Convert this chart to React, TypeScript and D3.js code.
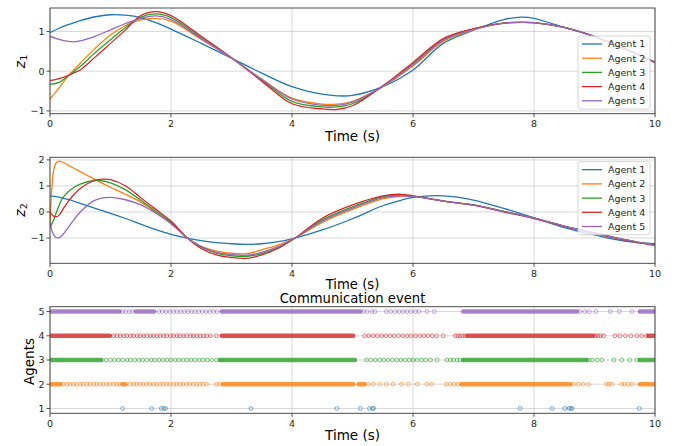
import React from "react";
import * as d3 from "d3";

const AGENTS = ["Agent 1", "Agent 2", "Agent 3", "Agent 4", "Agent 5"];
const COLORS = ["#1f77b4", "#ff7f0e", "#2ca02c", "#d62728", "#9467bd"];

const X_TICKS = [0, 2, 4, 6, 8, 10];
const Z1_TICKS = [-1, 0, 1];
const Z2_TICKS = [-1, 0, 1, 2];
const AGENT_TICKS = [1, 2, 3, 4, 5];

const TIME_Z1 = [0, 0.15, 0.3, 0.4, 0.5, 0.75, 1, 1.25, 1.5, 1.75, 2, 2.5, 3, 3.5, 4, 4.5, 4.75, 5, 5.5, 6, 6.5, 7, 7.5, 7.8, 8, 8.5, 9, 9.5, 10];
const Z1_A1 = [0.97, 1.08, 1.17, 1.22, 1.27, 1.37, 1.42, 1.41, 1.35, 1.22, 1.06, 0.7, 0.33, -0.05, -0.39, -0.58, -0.62, -0.61, -0.39, 0.03, 0.7, 1.03, 1.3, 1.36, 1.33, 1.1, 0.87, 0.57, 0.23];
const Z1_A2 = [-0.7, -0.42, -0.12, 0.04, 0.2, 0.58, 0.91, 1.15, 1.29, 1.33, 1.26, 0.8, 0.33, -0.2, -0.68, -0.83, -0.83, -0.76, -0.39, 0.13, 0.75, 1.04, 1.21, 1.23, 1.22, 1.1, 0.87, 0.56, 0.22];
const Z1_A3 = [-0.33, -0.28, -0.12, 0.0, 0.12, 0.47, 0.79, 1.1, 1.36, 1.44, 1.35, 0.84, 0.33, -0.22, -0.76, -0.9, -0.9, -0.82, -0.38, 0.18, 0.8, 1.06, 1.21, 1.23, 1.22, 1.1, 0.87, 0.56, 0.22];
const Z1_A4 = [-0.24, -0.19, -0.11, -0.04, 0.03, 0.36, 0.7, 1.04, 1.4, 1.5, 1.4, 0.88, 0.34, -0.25, -0.82, -0.95, -0.96, -0.87, -0.37, 0.22, 0.82, 1.07, 1.21, 1.23, 1.22, 1.1, 0.87, 0.56, 0.22];
const Z1_A5 = [0.88, 0.8, 0.75, 0.74, 0.76, 0.88, 1.04, 1.2, 1.33, 1.39, 1.3, 0.82, 0.33, -0.21, -0.7, -0.86, -0.86, -0.78, -0.38, 0.16, 0.78, 1.05, 1.21, 1.23, 1.22, 1.1, 0.87, 0.56, 0.22];

const TIME_Z2 = [0, 0.03, 0.06, 0.1, 0.15, 0.2, 0.3, 0.4, 0.5, 0.7, 0.85, 1, 1.25, 1.5, 1.75, 2, 2.27, 2.5, 2.75, 3, 3.25, 3.5, 3.75, 4.05, 4.5, 5, 5.5, 5.8, 6, 6.5, 7, 7.5, 8, 8.5, 9, 9.5, 10];
const Z2_A1 = [0.62, 0.61, 0.6, 0.59, 0.57, 0.54, 0.48, 0.41, 0.33, 0.18, 0.06, -0.05, -0.25, -0.47, -0.68, -0.86, -1.0, -1.1, -1.18, -1.22, -1.24, -1.22, -1.15, -1.0, -0.69, -0.26, 0.24, 0.45, 0.56, 0.62, 0.46, 0.14, -0.22, -0.6, -0.88, -1.12, -1.22];
const Z2_A2 = [-0.5, 0.9, 1.6, 1.88, 1.95, 1.92, 1.8, 1.67, 1.55, 1.3, 1.12, 0.95, 0.68, 0.38, 0.0, -0.43, -1.0, -1.32, -1.5, -1.58, -1.6, -1.45, -1.28, -1.0, -0.4, 0.1, 0.5, 0.6, 0.6, 0.42, 0.27, 0.02, -0.24, -0.54, -0.8, -1.06, -1.27];
const Z2_A3 = [-0.6, -0.45, -0.3, -0.05, 0.25, 0.5, 0.78, 0.95, 1.07, 1.2, 1.2, 1.12, 0.85, 0.45, 0.02, -0.4, -1.0, -1.35, -1.58, -1.68, -1.7, -1.6, -1.4, -1.0, -0.3, 0.2, 0.58, 0.65, 0.61, 0.42, 0.27, 0.02, -0.24, -0.54, -0.8, -1.06, -1.27];
const Z2_A4 = [0.0, -0.1, -0.16, -0.19, -0.12, 0.05, 0.4, 0.68, 0.9, 1.18, 1.26, 1.24, 1.0, 0.55, 0.1, -0.35, -1.0, -1.4, -1.65, -1.75, -1.78, -1.65, -1.42, -1.0, -0.24, 0.27, 0.62, 0.68, 0.62, 0.42, 0.26, 0.0, -0.25, -0.55, -0.82, -1.08, -1.29];
const Z2_A5 = [-0.4, -0.7, -0.88, -0.98, -0.98, -0.9, -0.6, -0.28, 0.0, 0.4, 0.53, 0.56, 0.47, 0.27, -0.05, -0.45, -1.0, -1.33, -1.55, -1.63, -1.66, -1.55, -1.35, -1.0, -0.35, 0.15, 0.55, 0.62, 0.6, 0.42, 0.27, 0.02, -0.24, -0.54, -0.8, -1.06, -1.27];

// Communication events: isolated event times, plus bursts where events are too dense to separate
const EVENTS_A1 = [1.2, 1.68, 1.84, 1.88, 1.91, 3.32, 4.74, 5.13, 5.28, 5.33, 5.35, 7.77, 8.3, 8.51, 8.58, 8.61, 8.63, 9.74];
const BURSTS_A1: number[][] = [];
const EVENTS_A2 = [0.22, 0.28, 0.33, 0.39, 0.44, 0.5, 0.55, 0.61, 0.66, 0.72, 0.77, 0.83, 0.88, 0.94, 0.99, 1.05, 1.1, 1.15, 1.32, 1.38, 1.43, 1.49, 1.54, 1.6, 1.65, 1.71, 1.76, 1.82, 1.87, 1.93, 1.98, 2.04, 2.09, 2.15, 2.2, 2.26, 2.31, 2.37, 2.42, 2.48, 2.53, 2.59, 2.75, 2.8, 5.26, 5.34, 5.45, 5.56, 5.67, 5.81, 5.92, 6.07, 6.23, 6.31, 6.55, 6.62, 6.68, 6.74, 8.65, 8.73, 8.81, 8.9, 9.2, 9.24, 9.29, 9.45, 9.5, 9.56, 9.62];
const BURSTS_A2 = [[0, 0.17], [1.2, 1.25], [2.86, 5.01], [5.1, 5.2], [6.8, 8.6], [9.75, 10]];
const EVENTS_A3 = [0.93, 1.0, 1.07, 1.13, 1.2, 1.27, 1.33, 1.4, 1.47, 1.53, 1.6, 1.67, 1.73, 1.8, 1.87, 1.93, 2.0, 2.07, 2.13, 2.2, 2.27, 2.33, 2.4, 2.47, 2.53, 2.6, 2.67, 2.75, 5.23, 5.3, 5.37, 5.45, 5.52, 5.59, 5.66, 5.73, 5.8, 5.87, 5.94, 6.0, 6.07, 6.14, 6.21, 6.29, 6.4, 6.56, 6.62, 6.67, 6.73, 6.78, 8.91, 8.96, 9.04, 9.12, 9.32, 9.45, 9.58, 9.7];
const BURSTS_A3 = [[0, 0.85], [2.81, 5.04], [6.83, 8.87], [9.75, 10]];
const EVENTS_A4 = [1.05, 1.11, 1.16, 1.22, 1.27, 1.33, 1.38, 1.44, 1.49, 1.55, 1.6, 1.66, 1.71, 1.77, 1.82, 1.88, 1.93, 1.99, 2.04, 2.1, 2.15, 2.21, 2.26, 2.32, 2.37, 2.43, 2.48, 2.54, 2.59, 2.65, 2.75, 5.2, 5.27, 5.34, 5.41, 5.48, 5.55, 5.62, 5.69, 5.76, 5.83, 5.9, 5.97, 6.04, 6.11, 6.18, 6.25, 6.32, 6.39, 6.5, 6.7, 6.74, 6.78, 6.82, 6.86, 9.02, 9.06, 9.1, 9.15, 9.34, 9.42, 9.51, 9.6, 9.7, 9.78, 9.86];
const BURSTS_A4 = [[0, 0.99], [2.84, 5.01], [6.9, 8.98], [9.89, 10]];
const EVENTS_A5 = [1.2, 1.25, 1.31, 1.36, 1.8, 1.86, 1.92, 1.98, 2.04, 2.1, 2.16, 2.22, 2.28, 2.34, 2.4, 2.46, 2.52, 2.58, 2.64, 2.7, 2.76, 5.18, 5.24, 5.32, 5.37, 5.56, 5.63, 5.7, 5.77, 5.84, 5.9, 5.97, 6.04, 6.1, 6.23, 6.35, 8.76, 8.84, 8.91, 9.02, 9.26, 9.41, 9.62];
const BURSTS_A5 = [[0, 1.15], [1.42, 1.72], [2.84, 5.13], [6.83, 8.71], [9.75, 10]];

const Z1_SERIES = [Z1_A1, Z1_A2, Z1_A3, Z1_A4, Z1_A5];
const Z2_SERIES = [Z2_A1, Z2_A2, Z2_A3, Z2_A4, Z2_A5];
const EVENTS = [EVENTS_A1, EVENTS_A2, EVENTS_A3, EVENTS_A4, EVENTS_A5];
const BURSTS = [BURSTS_A1, BURSTS_A2, BURSTS_A3, BURSTS_A4, BURSTS_A5];

const FONT = "DejaVu Sans, sans-serif";
const LEFT = 50;
const RIGHT = 655;

const x = d3.scaleLinear().domain([0, 10]).range([LEFT, RIGHT]);

type PanelProps = {
  top: number;
  bottom: number;
  y: d3.ScaleLinear<number, number>;
  yTicks: number[];
  children?: React.ReactNode;
};

const fmt = (v: number) => (v < 0 ? "\u2212" + Math.abs(v) : String(v));

function Panel({ top, bottom, y, yTicks, children }: PanelProps) {
  const clipId = "clip" + Math.round(top);
  return (
    <g>
      <defs>
        <clipPath id={clipId}>
          <rect x={LEFT} y={top} width={RIGHT - LEFT} height={bottom - top} />
        </clipPath>
      </defs>
      {X_TICKS.map((t) => (
        <line key={"gx" + t} x1={x(t)} x2={x(t)} y1={top} y2={bottom} stroke="#b0b0b0" strokeOpacity={0.55} strokeWidth={0.9} />
      ))}
      {yTicks.map((t) => (
        <line key={"gy" + t} x1={LEFT} x2={RIGHT} y1={y(t)} y2={y(t)} stroke="#b0b0b0" strokeOpacity={0.55} strokeWidth={0.9} />
      ))}
      <g clipPath={`url(#${clipId})`}>{children}</g>
      <rect x={LEFT} y={top} width={RIGHT - LEFT} height={bottom - top} fill="none" stroke="#3a3a3a" strokeWidth={0.9} />
      {X_TICKS.map((t) => (
        <g key={"tx" + t}>
          <line x1={x(t)} x2={x(t)} y1={bottom} y2={bottom + 3.5} stroke="#3a3a3a" strokeWidth={0.9} />
          <text x={x(t)} y={bottom + 13.5} textAnchor="middle" fontSize={9.5} fontFamily={FONT} fill="#262626">
            {t}
          </text>
        </g>
      ))}
      {yTicks.map((t) => (
        <g key={"ty" + t}>
          <line x1={LEFT - 3.5} x2={LEFT} y1={y(t)} y2={y(t)} stroke="#3a3a3a" strokeWidth={0.9} />
          <text x={LEFT - 5.5} y={y(t) + 3.4} textAnchor="end" fontSize={9.5} fontFamily={FONT} fill="#262626">
            {fmt(t)}
          </text>
        </g>
      ))}
    </g>
  );
}

function Legend({ left, top }: { left: number; top: number }) {
  const step = 14.2;
  return (
    <g>
      <rect x={left} y={top} width={72} height={73} rx={2.5} fill="white" fillOpacity={0.8} stroke="#cccccc" strokeWidth={0.8} />
      {AGENTS.map((a, i) => {
        const cy = top + 8 + i * step;
        return (
          <g key={a}>
            <line x1={left + 4} x2={left + 24} y1={cy} y2={cy} stroke={COLORS[i]} strokeWidth={1.3} />
            <text x={left + 30} y={cy + 3.4} fontSize={9.5} fontFamily={FONT} fill="#262626">
              {a}
            </text>
          </g>
        );
      })}
    </g>
  );
}

export default function App() {
  const y1 = d3.scaleLinear().domain([-1.07, 1.59]).range([113.7, 8]);
  const y2 = d3.scaleLinear().domain([-1.97, 2.1]).range([263.3, 157.3]);
  const y3 = d3.scaleLinear().domain([0.8, 5.2]).range([413.3, 306.7]);

  const line1 = (vals: number[]) =>
    d3
      .line<number>()
      .x((_, i) => x(TIME_Z1[i]))
      .y((v) => y1(v))
      .curve(d3.curveCatmullRom.alpha(0.5))(vals) || "";
  const line2 = (vals: number[]) =>
    d3
      .line<number>()
      .x((_, i) => x(TIME_Z2[i]))
      .y((v) => y2(v))
      .curve(d3.curveCatmullRom.alpha(0.5))(vals) || "";

  return (
    <svg width={683} height={446} style={{ position: "absolute", left: 0, top: 0, background: "white" }}>
      <rect x={0} y={0} width={683} height={446} fill="white" />

      {/* Panel 1: z1 */}
      <Panel top={8} bottom={113.7} y={y1} yTicks={Z1_TICKS}>
        {Z1_SERIES.map((s, i) => (
          <path key={i} d={line1(s)} fill="none" stroke={COLORS[i]} strokeWidth={1.3} />
        ))}
      </Panel>
      <Legend left={578} top={36} />
      <text x={352.5} y={141} textAnchor="middle" fontSize={13.5} fontFamily={FONT} fill="#000">
        Time (s)
      </text>
      <text transform="translate(25,61.5) rotate(-90)" textAnchor="middle" fontSize={14} fontFamily={FONT} fill="#000">
        <tspan fontStyle="italic">z</tspan>
        <tspan fontSize={9.5} dy={2}>1</tspan>
      </text>

      {/* Panel 2: z2 */}
      <Panel top={157.3} bottom={263.3} y={y2} yTicks={Z2_TICKS}>
        {Z2_SERIES.map((s, i) => (
          <path key={i} d={line2(s)} fill="none" stroke={COLORS[i]} strokeWidth={1.3} />
        ))}
      </Panel>
      <Legend left={578} top={161.7} />
      <text x={352.5} y={288.5} textAnchor="middle" fontSize={13.2} fontFamily={FONT} fill="#000">
        Time (s)
      </text>
      <text transform="translate(25,210) rotate(-90)" textAnchor="middle" fontSize={14} fontFamily={FONT} fill="#000">
        <tspan fontStyle="italic">z</tspan>
        <tspan fontSize={9.5} dy={2}>2</tspan>
      </text>

      {/* Panel 3: communication events */}
      <text x={352.5} y={303} textAnchor="middle" fontSize={13.2} fontFamily={FONT} fill="#000">
        Communication event
      </text>
      <Panel top={306.7} bottom={413.3} y={y3} yTicks={AGENT_TICKS}>
        {EVENTS.map((ev, i) => (
          <g key={i}>
            {BURSTS[i].map((b, j) => (
              <line
                key={"b" + j}
                x1={x(b[0])}
                x2={x(b[1])}
                y1={y3(i + 1)}
                y2={y3(i + 1)}
                stroke={COLORS[i]}
                strokeOpacity={0.8}
                strokeWidth={4.6}
                strokeLinecap="round"
              />
            ))}
            {ev.map((t, j) => (
              <circle key={"e" + j} cx={x(t)} cy={y3(i + 1)} r={1.9} fill="none" stroke={COLORS[i]} strokeOpacity={0.75} strokeWidth={0.8} />
            ))}
          </g>
        ))}
      </Panel>
      <text x={352.5} y={439.5} textAnchor="middle" fontSize={13.5} fontFamily={FONT} fill="#000">
        Time (s)
      </text>
      <text transform="translate(34,361.5) rotate(-90)" textAnchor="middle" fontSize={13.5} fontFamily={FONT} fill="#000">
        Agents
      </text>
    </svg>
  );
}
